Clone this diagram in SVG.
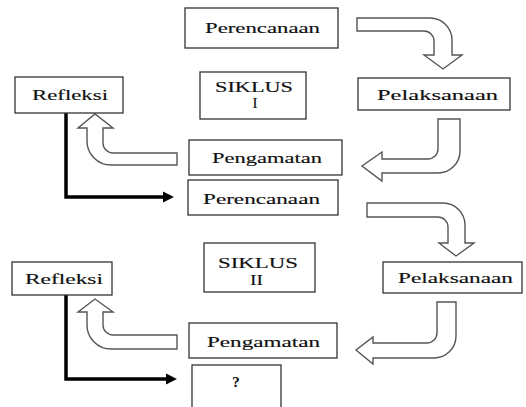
<svg xmlns="http://www.w3.org/2000/svg" width="526" height="407" viewBox="0 0 526 407">
<style>
.box{fill:#fff;stroke:#333;stroke-width:1.3}
.t{font-family:"Liberation Serif","Times New Roman",serif;font-size:15px;fill:#111;stroke:#111;stroke-width:0.15}
.hollow{fill:#fff;stroke:#555;stroke-width:1.4;stroke-linejoin:miter}
.solid{fill:none;stroke:#000;stroke-width:3.5}
</style>
<defs>
<marker id="ah" viewBox="0 0 10 10" refX="2" refY="5" markerWidth="3.2" markerHeight="3.2" orient="auto" markerUnits="strokeWidth">
<path d="M0,0 L10,5 L0,10 z" fill="#000"/>
</marker>
</defs>
<rect width="526" height="407" fill="#fff"/>
<g id="connectors">
<path class="hollow" d="M357,18 H430 A22,22 0 0 1 452,40 V55 H462 L443,69 L424,55 H434 V41 A10,10 0 0 0 424,31 H357 Z"/>
<path class="hollow" d="M438,119 V149 A10,10 0 0 1 428,159 H382 V152 L362,166 L382,181 V173 H438 A22,22 0 0 0 460,151 V119 Z"/>
<path class="hollow" d="M177,153 H113 A10,10 0 0 1 103,143 V128 H113 L95,114 L78,128 H87 V141 A24,24 0 0 0 111,165 H177 Z"/>
<path class="solid" d="M66,113 V197 H165" marker-end="url(#ah)"/>
<path class="hollow" d="M367,203 H443 A22,22 0 0 1 465,225 V243 H474 L456,256 L439,243 H448 V227 A10,10 0 0 0 438,217 H367 Z"/>
<path class="hollow" d="M437,302 V333 A10,10 0 0 1 427,343 H373 V337 L356,350 L373,364 V358 H434 A22,22 0 0 0 456,336 V302 Z"/>
<path class="hollow" d="M177,335 H113 A10,10 0 0 1 103,325 V312 H113 L95,299 L78,312 H87 V325 A24,24 0 0 0 111,349 H177 Z"/>
<path class="solid" d="M66,295 V379 H168" marker-end="url(#ah)"/>
</g>
<g id="perencanaan1"><rect class="box" x="185" y="8" width="153" height="40"/><text class="t" x="205" y="33" textLength="115" lengthAdjust="spacingAndGlyphs">Perencanaan</text></g>
<g id="siklus1"><rect class="box" x="200" y="72" width="106" height="47"/><text class="t" x="215" y="92" textLength="78" lengthAdjust="spacingAndGlyphs">SIKLUS</text><text class="t" x="255" y="108" text-anchor="middle">I</text></g>
<g id="refleksi1"><rect class="box" x="15" y="77" width="108" height="36"/><text class="t" x="32" y="100" textLength="76" lengthAdjust="spacingAndGlyphs">Refleksi</text></g>
<g id="pelaksanaan1"><rect class="box" x="358" y="78" width="152" height="32"/><text class="t" x="377" y="100" textLength="121" lengthAdjust="spacingAndGlyphs">Pelaksanaan</text></g>
<g id="pengamatan1"><rect class="box" x="189" y="140" width="153" height="35"/><text class="t" x="212" y="163" textLength="110" lengthAdjust="spacingAndGlyphs">Pengamatan</text></g>
<g id="perencanaan2"><rect class="box" x="188" y="180" width="150" height="35"/><text class="t" x="203" y="204" textLength="117" lengthAdjust="spacingAndGlyphs">Perencanaan</text></g>
<g id="siklus2"><rect class="box" x="204" y="243" width="111" height="49"/><text class="t" x="218" y="268" textLength="80" lengthAdjust="spacingAndGlyphs">SIKLUS</text><text class="t" x="250" y="285" textLength="13" lengthAdjust="spacingAndGlyphs">II</text></g>
<g id="refleksi2"><rect class="box" x="12" y="262" width="100" height="33"/><text class="t" x="25" y="284" textLength="78" lengthAdjust="spacingAndGlyphs">Refleksi</text></g>
<g id="pelaksanaan2"><rect class="box" x="383" y="262" width="139" height="31"/><text class="t" x="398" y="283" textLength="115" lengthAdjust="spacingAndGlyphs">Pelaksanaan</text></g>
<g id="pengamatan2"><rect class="box" x="189" y="323" width="148" height="35"/><text class="t" x="207" y="347" textLength="113" lengthAdjust="spacingAndGlyphs">Pengamatan</text></g>
<g id="tanya"><rect class="box" x="192" y="365" width="89" height="50"/><text class="t" x="236" y="387" text-anchor="middle" style="font-size:15px;font-weight:bold">?</text></g>
</svg>
